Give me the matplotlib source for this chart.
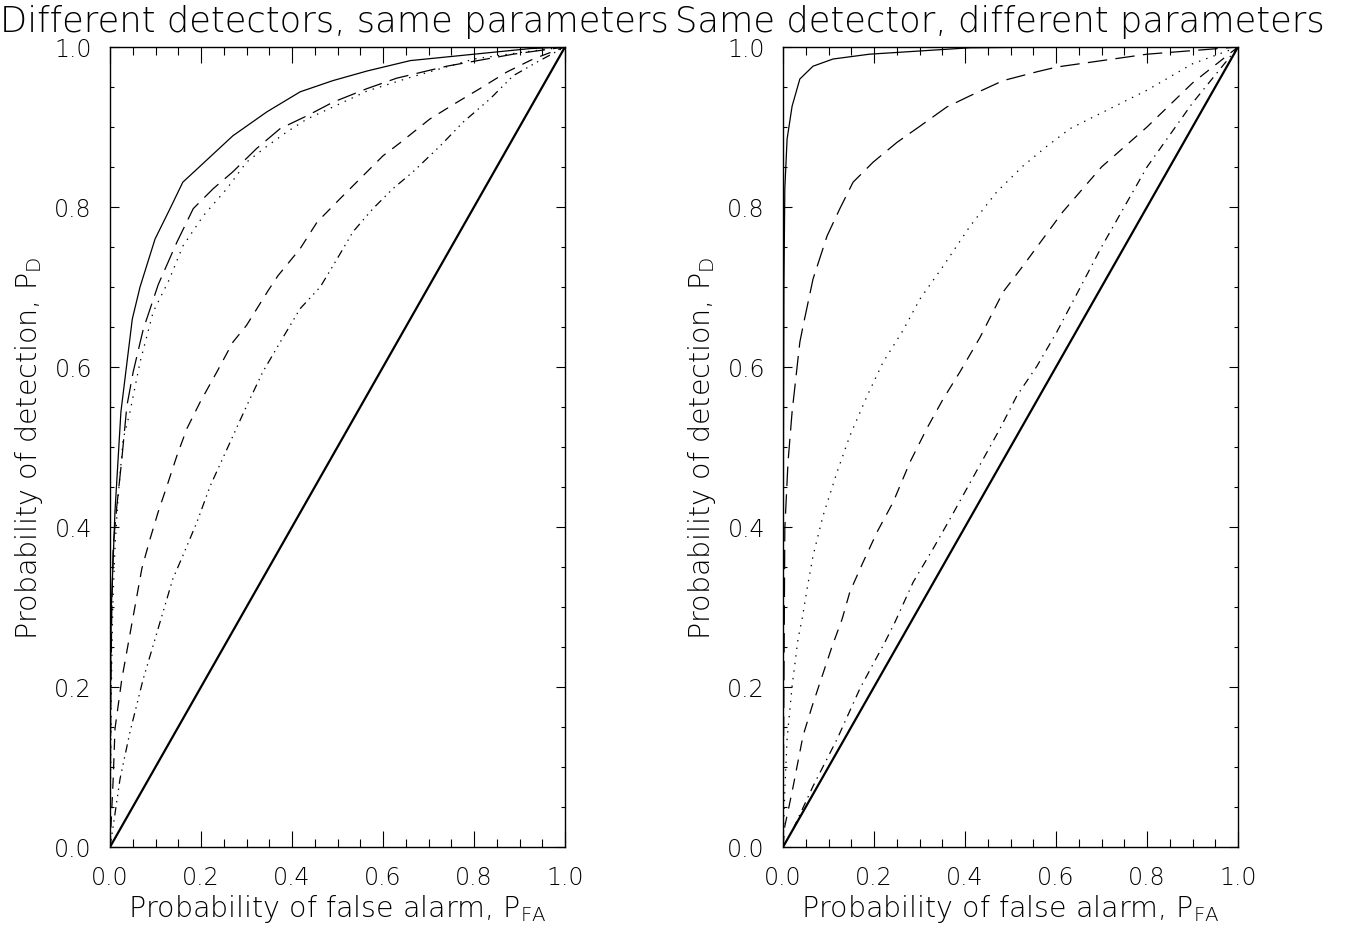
'''
    ROC curves: two panels, different detectors vs. same detector
    with different parameters. Values read off the original figure.
'''

import matplotlib
matplotlib.use('Agg')
import matplotlib.pyplot as plt
from matplotlib.ticker import MultipleLocator, FormatStrFormatter


_OUT_PNG = 'out.png'

# Left panel: different detectors, same parameters
left_solid_x = [0, 0.001, 0.003, 0.011, 0.024, 0.049, 0.066, 0.099, 0.132, 0.16, 0.198,
                0.27, 0.345, 0.418, 0.49, 0.565, 0.66, 0.80, 0.923, 1.0]
left_solid_y = [0, 0.20, 0.30, 0.42, 0.544, 0.66, 0.70, 0.76, 0.798, 0.831, 0.851,
                0.889, 0.919, 0.944, 0.958, 0.97, 0.983, 0.991, 0.998, 1.0]

left_longdash_x = [0, 0.002, 0.004, 0.007, 0.015, 0.026, 0.037, 0.051, 0.073, 0.106, 0.147,
                   0.183, 0.227, 0.27, 0.322, 0.374, 0.433, 0.49, 0.565, 0.63, 0.74, 0.886, 1.0]
left_longdash_y = [0, 0.2, 0.3, 0.376, 0.426, 0.485, 0.551, 0.594, 0.647, 0.703, 0.756,
                   0.798, 0.823, 0.844, 0.873, 0.898, 0.914, 0.931, 0.948, 0.961, 0.976, 0.991, 1.0]

left_dotted_x = [0, 0.003, 0.006, 0.011, 0.018, 0.029, 0.044, 0.066, 0.095, 0.13, 0.16, 0.205,
                 0.257, 0.30, 0.345, 0.389, 0.433, 0.49, 0.565, 0.66, 0.80, 0.90, 1.0]
left_dotted_y = [0, 0.2, 0.3, 0.376, 0.439, 0.51, 0.544, 0.606, 0.669, 0.709, 0.751, 0.789,
                 0.823, 0.856, 0.876, 0.894, 0.91, 0.925, 0.945, 0.962, 0.985, 0.993, 1.0]

left_dashed_x = [0, 0.007, 0.011, 0.026, 0.07, 0.088, 0.106, 0.125, 0.147, 0.169, 0.198,
                 0.235, 0.27, 0.30, 0.347, 0.369, 0.418, 0.455, 0.505, 0.549, 0.60, 0.637,
                 0.703, 0.763, 0.813, 0.873, 0.93, 1.0]
left_dashed_y = [0, 0.085, 0.148, 0.21, 0.348, 0.385, 0.419, 0.451, 0.489, 0.523, 0.556,
                 0.594, 0.631, 0.652, 0.695, 0.714, 0.748, 0.781, 0.81, 0.835, 0.864, 0.88,
                 0.91, 0.931, 0.948, 0.969, 0.985, 1.0]

left_dashdots_x = [0, 0.007, 0.022, 0.044, 0.073, 0.138, 0.16, 0.191, 0.22, 0.264, 0.30,
                   0.336, 0.374, 0.418, 0.462, 0.499, 0.534, 0.578, 0.622, 0.666, 0.725,
                   0.776, 0.835, 0.886, 0.938, 1.0]
left_dashdots_y = [0, 0.026, 0.085, 0.144, 0.21, 0.335, 0.364, 0.406, 0.451, 0.506, 0.551,
                   0.594, 0.631, 0.673, 0.70, 0.735, 0.769, 0.798, 0.823, 0.844, 0.876,
                   0.906, 0.935, 0.964, 0.981, 1.0]

# Right panel: same detector, different parameters
right_solid_x = [0, 0.001, 0.002, 0.004, 0.009, 0.02, 0.037, 0.066, 0.11, 0.19, 0.30,
                 0.41, 0.6, 1.0]
right_solid_y = [0, 0.5, 0.7, 0.823, 0.885, 0.926, 0.96, 0.976, 0.985, 0.991, 0.995,
                 0.999, 1.0, 1.0]

right_longdash_x = [0, 0.002, 0.004, 0.011, 0.02, 0.037, 0.044, 0.066, 0.097, 0.125, 0.154,
                    0.198, 0.251, 0.301, 0.36, 0.411, 0.484, 0.558, 0.602, 0.8, 1.0]
right_longdash_y = [0, 0.2, 0.398, 0.481, 0.544, 0.631, 0.651, 0.71, 0.764, 0.798, 0.831,
                    0.856, 0.881, 0.901, 0.925, 0.939, 0.958, 0.969, 0.975, 0.991, 1.0]

right_dotted_x = [0, 0.004, 0.009, 0.02, 0.033, 0.042, 0.053, 0.066, 0.088, 0.119, 0.147,
                  0.185, 0.22, 0.264, 0.301, 0.352, 0.411, 0.47, 0.527, 0.58, 0.631, 0.8,
                  0.9, 1.0]
right_dotted_y = [0, 0.072, 0.135, 0.201, 0.26, 0.285, 0.323, 0.364, 0.414, 0.469, 0.514,
                  0.564, 0.606, 0.646, 0.685, 0.726, 0.776, 0.819, 0.851, 0.876, 0.898,
                  0.946, 0.979, 1.0]

right_dashed_x = [0, 0.004, 0.02, 0.044, 0.064, 0.108, 0.13, 0.147, 0.176, 0.207, 0.242,
                  0.279, 0.316, 0.352, 0.389, 0.433, 0.484, 0.527, 0.571, 0.615, 0.7, 0.8,
                  0.9, 1.0]
right_dashed_y = [0, 0.026, 0.069, 0.139, 0.176, 0.251, 0.285, 0.319, 0.356, 0.394, 0.431,
                  0.481, 0.523, 0.56, 0.594, 0.637, 0.694, 0.726, 0.76, 0.794, 0.85, 0.90,
                  0.955, 1.0]

right_dashdot_x = [0, 0.022, 0.066, 0.119, 0.169, 0.224, 0.246, 0.286, 0.33, 0.367, 0.404,
                   0.44, 0.477, 0.514, 0.558, 0.602, 0.7, 0.8, 0.9, 1.0]
right_dashdot_y = [0, 0.022, 0.076, 0.135, 0.198, 0.256, 0.281, 0.331, 0.373, 0.41, 0.448,
                   0.485, 0.523, 0.564, 0.601, 0.644, 0.75, 0.85, 0.93, 1.0]

chance_x = [0.0, 1.0]
chance_y = [0.0, 1.0]

titles = ['Different detectors, same parameters',
          'Same detector, different parameters']
xlabel = r'Probability of false alarm, $\mathregular{P_{FA}}$'
ylabel = r'Probability of detection, $\mathregular{P_{D}}$'

# IDL-ish line styles (dash lengths in points, not scaled by width)
SOLID = '-'
DOTTED = (0, (1.0, 4.5))
DASHED = (0, (8, 6))
DASHDOT = (0, (6, 4, 1, 4))
DASHDOTS = (0, (6, 3.5, 1, 3.5, 1, 3.5, 1, 3.5))
LONGDASH = (0, (14, 6))


def setup_axes(ax):
    ''' Box axes with inward ticks on all four sides. '''
    ax.set_xlim(0, 1)
    ax.set_ylim(0, 1)
    ax.xaxis.set_major_locator(MultipleLocator(0.2))
    ax.xaxis.set_minor_locator(MultipleLocator(0.05))
    ax.yaxis.set_major_locator(MultipleLocator(0.2))
    ax.yaxis.set_minor_locator(MultipleLocator(0.05))
    ax.xaxis.set_major_formatter(FormatStrFormatter('%.1f'))
    ax.yaxis.set_major_formatter(FormatStrFormatter('%.1f'))
    ax.tick_params(which='both', direction='in', top=True, right=True,
                   width=0.8, labelsize=17)
    ax.tick_params(axis='x', which='major', length=11.5, pad=13)
    ax.tick_params(axis='x', which='minor', length=5.8)
    ax.tick_params(axis='y', which='major', length=6.5, pad=13)
    ax.tick_params(axis='y', which='minor', length=3.0)
    for sp in ax.spines.values():
        sp.set_linewidth(1.0)
    ax.set_xlabel(xlabel, fontsize=20.5, labelpad=2)
    ax.set_ylabel(ylabel, fontsize=20.5, labelpad=7)


def plot_panel(ax, curves):
    for (xs, ys, ls) in curves:
        ax.plot(xs, ys, color='black', linestyle=ls, linewidth=0.9)
    ax.plot(chance_x, chance_y, color='black', linestyle='-', linewidth=1.6)
    setup_axes(ax)


if __name__ == '__main__':
    plt.rcParams['font.family'] = ['DejaVu Sans']
    plt.rcParams['font.weight'] = 'ultralight'
    plt.rcParams['axes.labelweight'] = 'ultralight'
    plt.rcParams['mathtext.default'] = 'regular'
    plt.rcParams['lines.scale_dashes'] = False
    fig = plt.figure(figsize=(13.46, 9.28), dpi=100)
    ax1 = fig.add_axes([110/1346, 80/928, 455/1346, 800/928])
    ax2 = fig.add_axes([783/1346, 80/928, 455/1346, 800/928])

    plot_panel(ax1, [(left_solid_x, left_solid_y, SOLID),
                     (left_longdash_x, left_longdash_y, LONGDASH),
                     (left_dotted_x, left_dotted_y, DOTTED),
                     (left_dashed_x, left_dashed_y, DASHED),
                     (left_dashdots_x, left_dashdots_y, DASHDOTS)])
    plot_panel(ax2, [(right_solid_x, right_solid_y, SOLID),
                     (right_longdash_x, right_longdash_y, LONGDASH),
                     (right_dotted_x, right_dotted_y, DOTTED),
                     (right_dashed_x, right_dashed_y, DASHED),
                     (right_dashdot_x, right_dashdot_y, DASHDOT)])

    fig.text(334/1346, 1 - 22/928, titles[0], ha='center', va='center', fontsize=25.5)
    fig.text(1000/1346, 1 - 22/928, titles[1], ha='center', va='center', fontsize=25.5)

    fig.savefig(_OUT_PNG, dpi=100)
